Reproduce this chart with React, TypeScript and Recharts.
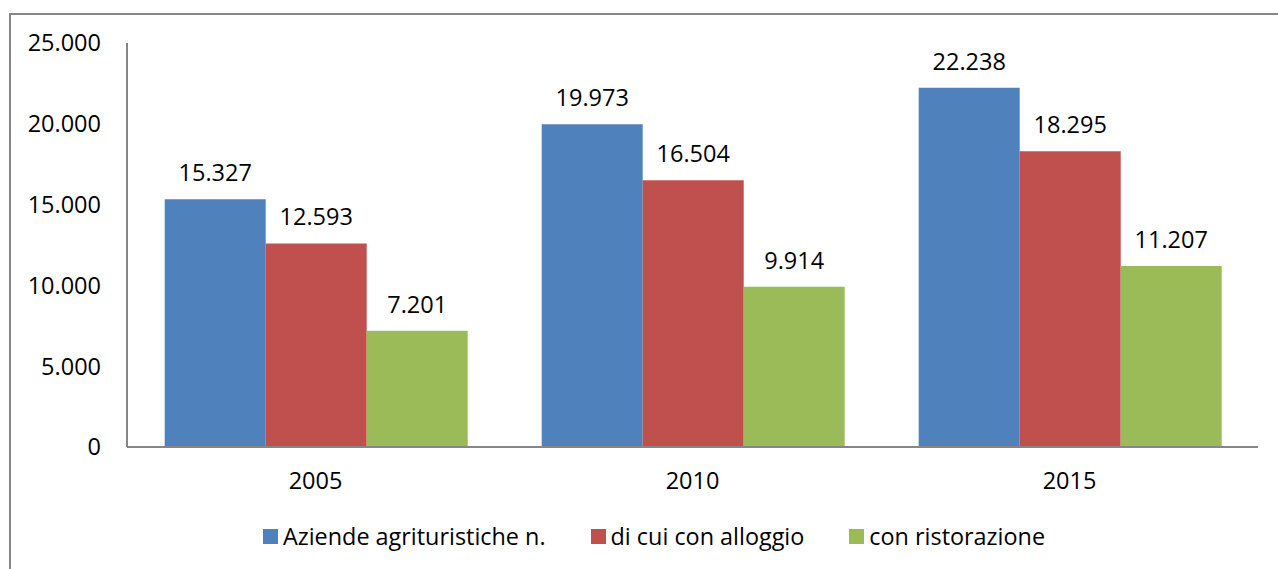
import React from "react"
import { BarChart, Bar, XAxis, YAxis, LabelList, Legend } from "recharts"

const years = ["2005", "2010", "2015"]
const aziende = [15327, 19973, 22238]
const alloggio = [12593, 16504, 18295]
const ristorazione = [7201, 9914, 11207]
const yTicks = [0, 5000, 10000, 15000, 20000, 25000]

const seriesInfo = [
  { key: "aziende", name: "Aziende agrituristiche n.", color: "#4F81BD" },
  { key: "alloggio", name: "di cui con alloggio", color: "#C0504D" },
  { key: "ristorazione", name: "con ristorazione", color: "#9BBB59" },
]

const data = years.map((year, i) => ({
  year,
  aziende: aziende[i],
  alloggio: alloggio[i],
  ristorazione: ristorazione[i],
}))

const FONT = "'Open Sans', sans-serif"

// 15327 -> "15.327"
const fmt = (v: number) => String(v).replace(/\B(?=(\d{3})+(?!\d))/g, ".")

const LegendContent = () => (
  <div style={{ display: "flex", justifyContent: "center", fontFamily: FONT, fontSize: 23.4, color: "#000", paddingLeft: 30 }}>
    {seriesInfo.map((s, i) => (
      <div key={s.key} style={{ display: "flex", alignItems: "center", marginLeft: i === 0 ? 0 : 45 }}>
        <span style={{ width: 15, height: 15, background: s.color, display: "inline-block", marginRight: 5 }} />
        <span>{s.name}</span>
      </div>
    ))}
  </div>
)

export default function App() {
  return (
    <div style={{ position: "absolute", left: 0, top: 0, width: 1278, height: 569, overflow: "hidden", background: "#fff" }}>
      <div
        style={{
          position: "absolute",
          left: 9,
          top: 13,
          width: 1300,
          height: 600,
          border: "2px solid #868686",
        }}
      />
      <div style={{ position: "absolute", left: 0, top: 0 }}>
        <BarChart
          width={1278}
          height={569}
          data={data}
          margin={{ top: 43, right: 20, left: 10, bottom: 82 }}
          barCategoryGap="10%"
          barGap={0}
        >
          <XAxis
            dataKey="year"
            height={40}
            tickLine={false}
            axisLine={{ stroke: "#868686", strokeWidth: 2 }}
            tick={{ fill: "#000", fontSize: 23.5, fontFamily: FONT }}
            tickMargin={19}
          />
          <YAxis
            width={117}
            domain={[0, 25000]}
            ticks={yTicks}
            interval={0}
            tickLine={false}
            tickSize={0}
            tickMargin={26}
            axisLine={{ stroke: "#868686", strokeWidth: 2 }}
            tickFormatter={fmt}
            tick={{ fill: "#000", fontSize: 23.5, fontFamily: FONT }}
          />
          <Legend verticalAlign="middle" align="center" wrapperStyle={{ top: 520, left: 0, width: 1278 }} content={<LegendContent />} />
          {seriesInfo.map((s) => (
            <Bar key={s.key} dataKey={s.key} name={s.name} fill={s.color} isAnimationActive={false}>
              <LabelList
                dataKey={s.key}
                position="top"
                offset={18}
                formatter={(v: any) => fmt(Number(v))}
                style={{ fill: "#000", fontSize: 23.5, fontFamily: FONT }}
              />
            </Bar>
          ))}
        </BarChart>
      </div>
    </div>
  )
}
